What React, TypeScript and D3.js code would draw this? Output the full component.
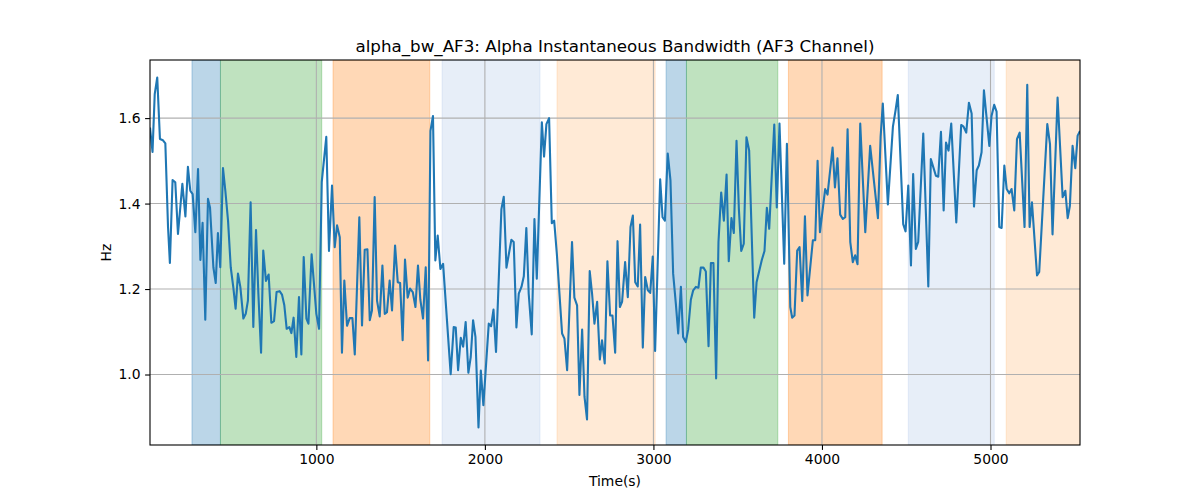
import { useEffect, useRef } from "react";
import * as d3 from "d3";

// readings of the AF3 alpha bandwidth trace, [time (s), Hz]
const seg1: [number, number][] = [
  [13, 1.578], [28, 1.521], [41, 1.656], [56, 1.695], [72, 1.551], [90, 1.548], [104, 1.541], [120, 1.345],
  [131, 1.261], [147, 1.455], [163, 1.45], [179, 1.329], [205, 1.446], [223, 1.37], [238, 1.486], [252, 1.43],
  [266, 1.422], [282, 1.333], [298, 1.481], [312, 1.268], [325, 1.355], [341, 1.128], [357, 1.411], [369, 1.391],
  [389, 1.251], [403, 1.214], [416, 1.331], [430, 1.251], [446, 1.483], [460, 1.43], [476, 1.36], [492, 1.251],
  [507, 1.205], [521, 1.154], [535, 1.236], [549, 1.205], [567, 1.131], [581, 1.142], [594, 1.173], [610, 1.403],
  [626, 1.111], [642, 1.338], [656, 1.189], [672, 1.051], [685, 1.29], [701, 1.219], [717, 1.234], [733, 1.121],
  [749, 1.125], [764, 1.193], [782, 1.195], [796, 1.187], [810, 1.162], [824, 1.107], [840, 1.111], [852, 1.097],
  [865, 1.133], [881, 1.041], [897, 1.181], [911, 1.047], [925, 1.275], [941, 1.131],
];
const seg2: [number, number][] = [
  [953, 1.119], [972, 1.281], [1000, 1.142], [1016, 1.107], [1032, 1.45], [1059, 1.556], [1075, 1.289], [1093, 1.442],
  [1109, 1.298], [1123, 1.349], [1139, 1.321], [1152, 1.051], [1166, 1.22], [1182, 1.114], [1198, 1.132], [1214, 1.132],
  [1228, 1.047], [1255, 1.368], [1271, 1.115], [1287, 1.292], [1303, 1.293], [1317, 1.127], [1330, 1.15], [1346, 1.415],
  [1360, 1.173], [1376, 1.136], [1392, 1.255], [1406, 1.142], [1419, 1.146], [1435, 1.22], [1449, 1.15], [1467, 1.302],
  [1483, 1.216], [1497, 1.214], [1512, 1.08], [1526, 1.269], [1542, 1.18], [1556, 1.201], [1572, 1.193], [1588, 1.158],
  [1603, 1.255], [1617, 1.175], [1633, 1.131], [1649, 1.251], [1663, 1.033], [1677, 1.57], [1692, 1.605], [1706, 1.267],
  [1720, 1.325], [1736, 1.247], [1752, 1.259], [1797, 1.001], [1815, 1.111], [1827, 1.11],
];
const seg3: [number, number][] = [
  [1841, 1.01], [1857, 1.086], [1871, 1.065], [1886, 1.123], [1902, 1.004], [1916, 1.041], [1930, 1.127], [1944, 1.088],
  [1962, 0.876], [1976, 1.009], [1991, 0.928], [2023, 1.119], [2037, 1.113], [2051, 1.152], [2066, 1.053], [2098, 1.387],
  [2112, 1.416], [2128, 1.25], [2157, 1.315], [2171, 1.31], [2187, 1.11], [2201, 1.189], [2217, 1.205], [2231, 1.23],
  [2246, 1.343], [2260, 1.189], [2278, 1.094], [2294, 1.364], [2308, 1.224], [2338, 1.59], [2351, 1.51], [2365, 1.586],
  [2381, 1.6], [2397, 1.354], [2411, 1.36], [2427, 1.282], [2458, 1.096], [2472, 1.084], [2488, 1.01], [2517, 1.31],
  [2531, 1.18], [2547, 1.162], [2561, 0.952], [2577, 1.105], [2591, 0.948], [2606, 0.895], [2622, 1.242], [2636, 1.189],
  [2650, 1.119], [2666, 1.17], [2682, 1.035], [2695, 1.08], [2711, 1.026], [2727, 1.265], [2743, 1.138], [2757, 1.138],
  [2773, 1.051], [2787, 1.312],
];
const seg4: [number, number][] = [
  [2801, 1.158], [2814, 1.17], [2832, 1.263], [2848, 1.181], [2864, 1.345], [2878, 1.372], [2892, 1.216], [2907, 1.206],
  [2921, 1.351], [2937, 1.063], [2951, 1.228], [2967, 1.197], [2981, 1.191], [2996, 1.276], [3010, 1.055], [3040, 1.457],
  [3054, 1.368], [3068, 1.36], [3085, 1.517], [3101, 1.455], [3117, 1.236], [3133, 1.166], [3147, 1.096], [3163, 1.205],
  [3176, 1.088], [3192, 1.076], [3206, 1.105], [3222, 1.175], [3236, 1.197], [3252, 1.205], [3267, 1.203], [3281, 1.25],
  [3297, 1.25], [3311, 1.241], [3327, 1.066], [3341, 1.261], [3356, 1.261], [3372, 0.991], [3386, 1.31], [3402, 1.426],
  [3418, 1.36], [3434, 1.468], [3447, 1.265], [3463, 1.366], [3477, 1.331], [3493, 1.547], [3507, 1.387], [3521, 1.289],
  [3536, 1.306], [3552, 1.555], [3568, 1.524], [3598, 1.133], [3612, 1.216], [3643, 1.268], [3659, 1.289], [3673, 1.39],
  [3687, 1.341],
];
const seg5: [number, number][] = [
  [3717, 1.585], [3732, 1.391], [3748, 1.587], [3776, 1.259], [3792, 1.54], [3812, 1.158], [3823, 1.133], [3837, 1.138],
  [3853, 1.29], [3867, 1.298], [3883, 1.172], [3899, 1.37], [3914, 1.185], [3946, 1.314], [3960, 1.314], [3974, 1.5],
  [3988, 1.333], [4019, 1.434], [4033, 1.421], [4063, 1.531], [4077, 1.438], [4092, 1.506], [4108, 1.374], [4124, 1.364],
  [4138, 1.368], [4152, 1.574], [4168, 1.31], [4183, 1.263], [4197, 1.279], [4211, 1.258], [4227, 1.587], [4257, 1.333],
  [4286, 1.535], [4332, 1.366], [4348, 1.556], [4361, 1.634], [4391, 1.398], [4421, 1.58], [4437, 1.619], [4450, 1.654],
  [4482, 1.352], [4496, 1.335], [4512, 1.442], [4528, 1.255], [4541, 1.469], [4557, 1.294], [4571, 1.31], [4601, 1.564],
  [4631, 1.206],
];
const seg6: [number, number][] = [
  [4646, 1.504], [4676, 1.465], [4690, 1.463], [4706, 1.568], [4722, 1.384], [4736, 1.543], [4751, 1.524], [4767, 1.587],
  [4797, 1.356], [4826, 1.584], [4840, 1.58], [4856, 1.566], [4872, 1.636], [4888, 1.611], [4902, 1.393], [4918, 1.478],
  [4931, 1.489], [4947, 1.52], [4961, 1.665], [4993, 1.535], [5006, 1.605], [5022, 1.631], [5036, 1.615], [5052, 1.345],
  [5066, 1.343], [5082, 1.489], [5096, 1.434], [5111, 1.424], [5125, 1.434], [5141, 1.384], [5157, 1.551], [5173, 1.566],
  [5202, 1.345], [5218, 1.678], [5232, 1.345], [5246, 1.403], [5276, 1.232], [5289, 1.24], [5337, 1.586], [5353, 1.539],
  [5368, 1.328], [5398, 1.648], [5428, 1.415], [5444, 1.43], [5458, 1.366], [5471, 1.395], [5487, 1.535], [5503, 1.483],
  [5517, 1.559], [5531, 1.57],
];

// shaded phases: [start, end, color]
const spanStarts = [262, 431, 1099, 1746, 2428, 3075, 3196, 3801, 4512, 5093];
const spanEnds = [431, 1032, 1673, 2327, 3010, 3196, 3738, 4357, 5022, 5600];
const spanColors = ["#1f77b4", "#2ca02c", "#ff7f0e", "#aec7e8", "#ffbb78", "#1f77b4", "#2ca02c", "#ff7f0e", "#aec7e8", "#ffbb78"];

const xTicks = [1000, 2000, 3000, 4000, 5000];
const yTicks = [1.0, 1.2, 1.4, 1.6];

const title = "alpha_bw_AF3: Alpha Instantaneous Bandwidth (AF3 Channel)";
const xLabel = "Time(s)";
const yLabel = "Hz";

export default function App() {
  const svgRef = useRef<SVGSVGElement>(null);
  const width = 1200;
  const height = 500;

  useEffect(() => {
    const svg = d3.select(svgRef.current);
    svg.selectAll("*").remove();

    const margin = { top: 60, right: 120, bottom: 55, left: 150 };
    const w = width - margin.left - margin.right;
    const h = height - margin.top - margin.bottom;
    const font = "DejaVu Sans, sans-serif";

    const data = [...seg1, ...seg2, ...seg3, ...seg4, ...seg5, ...seg6];
    const xExt = d3.extent(data, (d) => d[0]) as [number, number];
    const yExt = d3.extent(data, (d) => d[1]) as [number, number];
    const yPad = (yExt[1] - yExt[0]) * 0.05;

    const x = d3.scaleLinear().domain(xExt).range([0, w]);
    const y = d3.scaleLinear().domain([yExt[0] - yPad, yExt[1] + yPad]).range([h, 0]);

    svg.append("defs").append("clipPath").attr("id", "plotclip")
      .append("rect").attr("width", w).attr("height", h);

    const g = svg.append("g").attr("transform", `translate(${margin.left},${margin.top})`);
    const plot = g.append("g").attr("clip-path", "url(#plotclip)");

    // spans
    plot.selectAll("rect.span")
      .data(spanStarts.map((s, i) => ({ s, e: spanEnds[i], c: spanColors[i] })))
      .enter()
      .append("rect")
      .attr("x", (d) => x(d.s))
      .attr("y", 0)
      .attr("width", (d) => x(d.e) - x(d.s))
      .attr("height", h)
      .attr("fill", (d) => d.c)
      .attr("fill-opacity", 0.3)
      .attr("stroke", (d) => d.c)
      .attr("stroke-opacity", 0.3)
      .attr("stroke-width", 1);

    // grid
    plot.selectAll("line.gx").data(xTicks).enter().append("line")
      .attr("x1", (d) => x(d)).attr("x2", (d) => x(d))
      .attr("y1", 0).attr("y2", h)
      .attr("stroke", "#b0b0b0").attr("stroke-width", 1.1);
    plot.selectAll("line.gy").data(yTicks).enter().append("line")
      .attr("x1", 0).attr("x2", w)
      .attr("y1", (d) => y(d)).attr("y2", (d) => y(d))
      .attr("stroke", "#b0b0b0").attr("stroke-width", 1.1);

    const line = d3.line<[number, number]>().x((d) => x(d[0])).y((d) => y(d[1]));
    plot.append("path")
      .datum(data)
      .attr("d", line)
      .attr("fill", "none")
      .attr("stroke", "#1f77b4")
      .attr("stroke-width", 2.1)
      .attr("stroke-linejoin", "round");

    // frame
    g.append("rect").attr("width", w).attr("height", h)
      .attr("fill", "none").attr("stroke", "black").attr("stroke-width", 1.1);

    // axes
    const xAxis = g.append("g").attr("transform", `translate(0,${h})`)
      .call(d3.axisBottom(x).tickValues(xTicks).tickFormat(d3.format("d")).tickSizeOuter(0).tickSize(4.9).tickPadding(4));
    const yAxis = g.append("g")
      .call(d3.axisLeft(y).tickValues(yTicks).tickFormat(d3.format(".1f")).tickSizeOuter(0).tickSize(4.9).tickPadding(4.5));
    [xAxis, yAxis].forEach((a) => {
      a.select(".domain").remove();
      a.selectAll("line").attr("stroke", "black").attr("stroke-width", 1.1);
      a.selectAll("text").attr("fill", "black").style("font-family", font).style("font-size", "13.9px");
    });

    svg.append("text")
      .attr("x", margin.left + w / 2)
      .attr("y", margin.top - 8.3)
      .attr("text-anchor", "middle")
      .style("font-family", font)
      .style("font-size", "16.7px")
      .text(title);

    svg.append("text")
      .attr("x", margin.left + w / 2)
      .attr("y", 486)
      .attr("text-anchor", "middle")
      .style("font-family", font)
      .style("font-size", "13.9px")
      .text(xLabel);

    svg.append("text")
      .attr("transform", `translate(111,${margin.top + h / 2}) rotate(-90)`)
      .attr("text-anchor", "middle")
      .style("font-family", font)
      .style("font-size", "13.9px")
      .text(yLabel);
  }, []);

  return (
    <svg
      ref={svgRef}
      width={width}
      height={height}
      style={{ position: "absolute", left: 0, top: 0, background: "white" }}
    />
  );
}
